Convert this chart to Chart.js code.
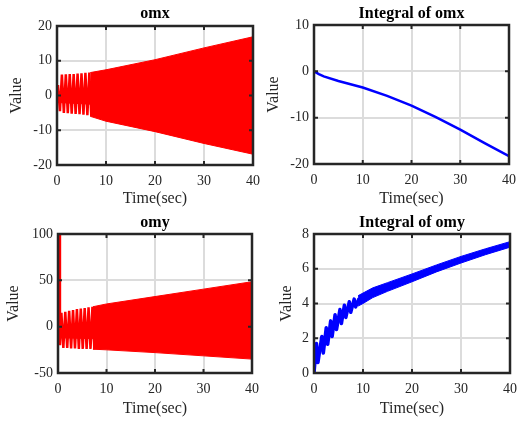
<!DOCTYPE html>
<html>
<head>
<meta charset="utf-8">
<script src="https://cdn.jsdelivr.net/npm/chart.js@4/dist/chart.umd.min.js"></script>
<style>
  body { margin: 0; background: #fff; }
  #fig { position: relative; width: 517px; height: 421px; }
  canvas { position: absolute; }
</style>
</head>
<body>
<div id="fig">
  <canvas id="c-omx" width="260" height="210" style="left:0;top:0"></canvas>
  <canvas id="c-iomx" width="257" height="210" style="left:260px;top:0"></canvas>
  <canvas id="c-omy" width="260" height="211" style="left:0;top:210px"></canvas>
  <canvas id="c-iomy" width="257" height="211" style="left:260px;top:210px"></canvas>
</div>
<script>
// --- Données ---
const timeTicks = [0, 10, 20, 30, 40];

// omx : oscillation rapide, pics séparés au début puis bande pleine
const omxSpikeT = [0, 0.2, 0.6, 1.0, 1.4, 1.8, 2.2, 2.6, 3.0, 3.4, 3.8, 4.2, 4.6, 5.0, 5.4, 5.8, 6.2, 6.6, 7.0];
const omxSpikeV = [0, 3.0, -4.5, 6.0, -5.0, 6.1, -5.1, 6.2, -5.2, 6.2, -5.3, 6.3, -5.4, 6.4, -5.5, 6.5, -5.7, 6.6, -6.0];
const omxCoreT = [0, 7];
const omxCoreUp = [1.0, 1.0];
const omxCoreLow = [-2.0, -2.5];
const omxBandT = [6.8, 10, 20, 30, 40];
const omxUpper = [6.6, 7.4, 10.3, 13.7, 16.9];
const omxLower = [-6.0, -7.4, -10.4, -13.8, -16.9];

// intégrale de omx
const intOmxT = [0, 1, 2, 5, 7.5, 10, 15, 20, 25, 30, 35, 40];
const intOmxV = [0, -0.6, -1.1, -2.1, -2.8, -3.5, -5.3, -7.4, -9.9, -12.6, -15.5, -18.3];

// omy : pic initial à 100 puis oscillation
const omySpikeT = [0, 0.25, 0.4, 0.7, 1.1, 1.5, 1.9, 2.3, 2.7, 3.1, 3.5, 3.9, 4.3, 4.7, 5.1, 5.5, 5.9, 6.3, 6.7, 7.1, 7.5];
const omySpikeV = [100, 100, -20, 15, -23, 16, -23, 17, -23.5, 18, -23.5, 19, -24, 19.5, -24, 20, -24, 21, -24, 21.5, -24.5];
const omyCoreT = [0.4, 7.5];
const omyCoreUp = [0, 0];
const omyCoreLow = [-12, -13];
const omyBandT = [7.2, 10, 20, 30, 40];
const omyUpper = [21.5, 24.5, 32.5, 40.5, 48.5];
const omyLower = [-24.3, -25, -28, -31.5, -35];

// intégrale de omy : oscillations au début puis bande étroite
const intOmyT = [0, 0.5, 0.8, 1.6, 1.9, 2.5, 2.8, 3.4, 3.7, 4.3, 4.6, 5.3, 5.6, 6.2, 6.5, 7.2, 7.5, 8.2, 8.5, 9.2];
const intOmyV = [0, 1.7, 0.6, 2.1, 1.15, 2.6, 1.65, 3.0, 2.1, 3.35, 2.5, 3.65, 2.85, 3.9, 3.2, 4.1, 3.5, 4.25, 3.8, 4.3];
const intOmyBandT = [9, 10, 12, 15, 20, 25, 30, 35, 40];
const intOmyUpper = [4.45, 4.6, 4.9, 5.2, 5.7, 6.22, 6.71, 7.15, 7.56];
const intOmyLower = [3.85, 4.0, 4.34, 4.7, 5.25, 5.82, 6.33, 6.81, 7.24];

const pts = (xs, ys) => xs.map((x, i) => ({ x, y: ys[i] }));

const FONT = "'Liberation Serif', 'Times New Roman', serif";
const INK = "#262626";
const RED = "#ff0000";
const BLUE = "#0000ff";

// cadre noir + graduations vers l'intérieur (style MATLAB)
const boxPlugin = {
  id: "box",
  afterDatasetsDraw(chart) {
    const { ctx, chartArea: a, scales } = chart;
    ctx.save();
    ctx.strokeStyle = INK;
    ctx.lineWidth = 2.5;
    ctx.strokeRect(a.left, a.top, a.right - a.left, a.bottom - a.top);
    ctx.lineWidth = 2;
    ctx.beginPath();
    scales.x.ticks.forEach((t) => {
      const px = scales.x.getPixelForValue(t.value);
      ctx.moveTo(px, a.bottom); ctx.lineTo(px, a.bottom - 4);
      ctx.moveTo(px, a.top); ctx.lineTo(px, a.top + 4);
    });
    scales.y.ticks.forEach((t) => {
      const py = scales.y.getPixelForValue(t.value);
      ctx.moveTo(a.left, py); ctx.lineTo(a.left + 4, py);
      ctx.moveTo(a.right, py); ctx.lineTo(a.right - 4, py);
    });
    ctx.stroke();
    ctx.restore();
  },
};

function band(xs, up, low, color) {
  return [
    { data: pts(xs, up), borderColor: color, backgroundColor: color, borderWidth: 1, fill: "+1" },
    { data: pts(xs, low), borderColor: color, borderWidth: 1, fill: false },
  ];
}

function makePanel(id, cfg) {
  new Chart(document.getElementById(id), {
    type: "line",
    data: { datasets: cfg.datasets },
    options: {
      responsive: false,
      animation: false,
      events: [],
      layout: { padding: { left: 0, right: cfg.padRight, top: 0, bottom: 0 } },
      elements: { point: { radius: 0 }, line: { tension: 0 } },
      plugins: {
        legend: { display: false },
        tooltip: { enabled: false },
        title: {
          display: true,
          text: cfg.title,
          fullSize: false,
          color: "#000",
          font: { family: FONT, size: 16, weight: "bold", lineHeight: 1 },
          padding: cfg.titlePad,
        },
      },
      scales: {
        x: {
          type: "linear",
          min: 0, max: 40,
          afterBuildTicks: (s) => { s.ticks = timeTicks.map((v) => ({ value: v })); },
          afterFit: (s) => { s.height = cfg.xHeight; s.paddingLeft = 0; s.paddingRight = 0; },
          grid: { color: "#dcdcdc", lineWidth: 2, drawTicks: false },
          border: { display: false },
          ticks: { color: INK, font: { family: FONT, size: 14 }, padding: 8 },
          title: { display: true, text: "Time(sec)", color: INK, font: { family: FONT, size: 16, lineHeight: 1 }, padding: { top: 0, bottom: cfg.xTitlePad } },
        },
        y: {
          min: cfg.yMin, max: cfg.yMax,
          afterBuildTicks: (s) => { s.ticks = cfg.yTicks.map((v) => ({ value: v })); },
          afterFit: (s) => { s.width = cfg.yWidth; s.paddingTop = 0; s.paddingBottom = 0; },
          grid: { color: "#dcdcdc", lineWidth: 2, drawTicks: false },
          border: { display: false },
          ticks: { color: INK, font: { family: FONT, size: 14 }, padding: 5 },
          title: { display: true, text: "Value", color: INK, font: { family: FONT, size: 16, lineHeight: 1 }, padding: { top: cfg.yTitlePad, bottom: 0 } },
        },
      },
    },
    plugins: [boxPlugin],
  });
}

makePanel("c-omx", {
  title: "omx",
  yMin: -20, yMax: 20, yTicks: [-20, -10, 0, 10, 20],
  yWidth: 57, xHeight: 45, padRight: 7, titlePad: { top: 6, bottom: 4 }, yTitlePad: 9, xTitlePad: 3,
  datasets: [
    ...band(omxBandT, omxUpper, omxLower, RED),
    ...band(omxCoreT, omxCoreUp, omxCoreLow, RED),
    { data: pts(omxSpikeT, omxSpikeV), borderColor: RED, borderWidth: 2.5, fill: false },
  ],
});

makePanel("c-iomx", {
  title: "Integral of omx",
  yMin: -20, yMax: 10, yTicks: [-20, -10, 0, 10],
  yWidth: 54, xHeight: 46, padRight: 8, titlePad: { top: 6, bottom: 3 }, yTitlePad: 6, xTitlePad: 3,
  datasets: [
    { data: pts(intOmxT, intOmxV), borderColor: BLUE, borderWidth: 2.5, fill: false },
  ],
});

makePanel("c-omy", {
  title: "omy",
  yMin: -50, yMax: 100, yTicks: [-50, 0, 50, 100],
  yWidth: 58, xHeight: 48, padRight: 8, titlePad: { top: 5, bottom: 3 }, yTitlePad: 6, xTitlePad: 4,
  datasets: [
    ...band(omyBandT, omyUpper, omyLower, RED),
    ...band(omyCoreT, omyCoreUp, omyCoreLow, RED),
    { data: pts(omySpikeT, omySpikeV), borderColor: RED, borderWidth: 2.5, fill: false },
  ],
});

makePanel("c-iomy", {
  title: "Integral of omy",
  yMin: 0, yMax: 8, yTicks: [0, 2, 4, 6, 8],
  yWidth: 54, xHeight: 48, padRight: 7, titlePad: { top: 5, bottom: 3 }, yTitlePad: 19, xTitlePad: 4,
  datasets: [
    ...band(intOmyBandT, intOmyUpper, intOmyLower, BLUE),
    { data: pts(intOmyT, intOmyV), borderColor: BLUE, borderWidth: 3.5, fill: false, borderJoinStyle: "round" },
  ],
});
</script>
</body>
</html>
